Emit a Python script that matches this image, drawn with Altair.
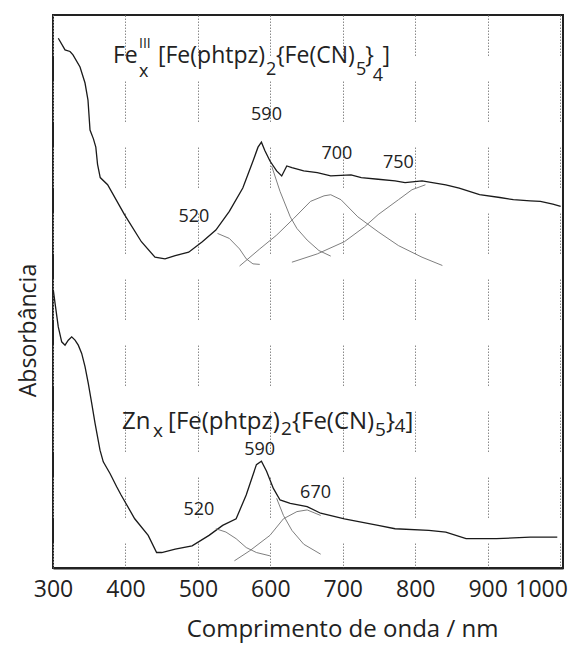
import altair as alt
import pandas as pd

# ---- measured spectra (wavelength nm, absorbance a.u.) ----
fe_nm = [307.3, 316.6, 323.5, 327.6, 337.3, 344.2, 348.3, 351.1, 355.8, 359.1, 361.5, 365.2,
         375.4, 398.7, 422.0, 440.8, 454.6, 468.7, 487.3, 506.1, 524.8, 543.4, 562.0, 576.1,
         583.0, 587.7, 592.4, 599.5, 608.7, 615.7, 622.7, 629.8, 646.1, 664.8, 683.4, 711.4,
         725.5, 748.8, 772.2, 786.0, 809.4, 842.2, 860.7, 888.8, 916.8, 935.5, 958.8, 972.8,
         990.0, 1000.8]
fe_abs = [0.958, 0.937, 0.934, 0.928, 0.906, 0.877, 0.846, 0.792, 0.776, 0.761, 0.730, 0.706,
          0.693, 0.639, 0.590, 0.562, 0.559, 0.565, 0.571, 0.590, 0.611, 0.645, 0.687, 0.736,
          0.761, 0.770, 0.755, 0.736, 0.718, 0.709, 0.727, 0.724, 0.718, 0.715, 0.709, 0.711,
          0.706, 0.703, 0.700, 0.697, 0.700, 0.693, 0.687, 0.675, 0.670, 0.666, 0.664, 0.663,
          0.658, 0.654]

zn_nm = [300.4, 302.8, 307.3, 312.0, 316.6, 321.1, 325.8, 330.4, 334.9, 339.6, 344.2, 348.7,
         353.4, 358.0, 364.9, 369.4, 378.7, 387.9, 394.0, 412.8, 431.4, 443.0, 450.1, 468.7,
         492.0, 515.4, 534.2, 552.8, 566.7, 580.8, 587.7, 594.8, 604.2, 613.4, 627.5, 650.8,
         669.5, 702.2, 748.8, 772.2, 818.8, 842.2, 870.2, 912.2, 958.8, 996.1]
zn_abs = [0.503, 0.479, 0.436, 0.409, 0.403, 0.412, 0.418, 0.412, 0.403, 0.388, 0.364, 0.334,
          0.298, 0.262, 0.213, 0.192, 0.171, 0.147, 0.132, 0.089, 0.059, 0.028, 0.028, 0.034,
          0.040, 0.059, 0.077, 0.089, 0.132, 0.187, 0.193, 0.175, 0.144, 0.123, 0.117, 0.111,
          0.099, 0.089, 0.077, 0.071, 0.068, 0.065, 0.053, 0.053, 0.056, 0.056]

# ---- fitted Gaussian components ----
fe520_nm = [527.1, 543.4, 557.5, 566.8, 576.0, 585.4]
fe520_abs = [0.605, 0.596, 0.577, 0.559, 0.550, 0.549]
fe590_nm = [601.8, 613.4, 627.5, 636.7, 650.8, 667.1, 683.4]
fe590_abs = [0.727, 0.681, 0.635, 0.614, 0.593, 0.574, 0.564]
fe700_nm = [557.5, 585.4, 608.7, 632.2, 655.5, 674.1, 683.4, 697.5, 720.8, 748.8, 776.9, 809.4, 837.5]
fe700_abs = [0.546, 0.577, 0.602, 0.632, 0.663, 0.673, 0.675, 0.666, 0.635, 0.608, 0.583, 0.562, 0.547]
fe750_nm = [629.8, 664.8, 702.2, 730.1, 748.8, 776.9, 795.5, 814.1]
fe750_abs = [0.553, 0.568, 0.590, 0.617, 0.639, 0.666, 0.684, 0.693]

zn520_nm = [524.8, 538.7, 552.8, 566.7, 580.8, 599.5]
zn520_abs = [0.071, 0.065, 0.053, 0.037, 0.028, 0.022]
zn590_nm = [608.7, 618.1, 629.8, 646.1, 669.5]
zn590_abs = [0.126, 0.095, 0.068, 0.043, 0.025]
zn670_nm = [550.4, 571.4, 599.5, 618.1, 636.7, 650.8, 669.5]
zn670_abs = [0.013, 0.031, 0.059, 0.089, 0.102, 0.105, 0.095]

# ---- peak labels ----
peak_text = ["590", "520", "700", "750", "590", "520", "670"]
peak_nm = [594.7, 494.4, 691.8, 776.8, 585.3, 501.4, 662.4]
peak_abs = [0.819, 0.635, 0.748, 0.733, 0.214, 0.105, 0.135]

# ---- sample names, composed of pieces (sub/superscripts) ----
name_text = ["Fe", "III", "x", "[Fe(phtpz)", "2", "{Fe(CN)", "5", "}", "4", "]",
             "Zn", "x", "[Fe(phtpz)", "2", "{Fe(CN)", "5", "}", "4", "]"]
name_nm = [382.8, 418.7, 418.7, 444.9, 594.0, 607.8, 718.3, 731.0, 741.5, 755.0,
           395.3, 438.1, 458.8, 614.8, 629.9, 744.5, 759.7, 771.5, 786.5]
name_abs = [0.913, 0.940, 0.888, 0.913, 0.892, 0.913, 0.892, 0.913, 0.881, 0.913,
            0.252, 0.236, 0.252, 0.240, 0.252, 0.239, 0.252, 0.246, 0.252]
name_size = [23, 14, 18, 23, 18, 23, 18, 23, 18, 23,
             24, 19, 24, 19, 24, 19, 24, 19, 24]

x_ticks = [300, 400, 500, 600, 700, 800, 900, 1000]

FONT = "Open Sans"

spec = pd.concat([
    pd.DataFrame({"nm": fe_nm, "A": fe_abs, "s": "Fe"}),
    pd.DataFrame({"nm": zn_nm, "A": zn_abs, "s": "Zn"}),
])
comps = pd.concat([
    pd.DataFrame({"nm": fe520_nm, "A": fe520_abs, "c": "fe520"}),
    pd.DataFrame({"nm": fe590_nm, "A": fe590_abs, "c": "fe590"}),
    pd.DataFrame({"nm": fe700_nm, "A": fe700_abs, "c": "fe700"}),
    pd.DataFrame({"nm": fe750_nm, "A": fe750_abs, "c": "fe750"}),
    pd.DataFrame({"nm": zn520_nm, "A": zn520_abs, "c": "zn520"}),
    pd.DataFrame({"nm": zn590_nm, "A": zn590_abs, "c": "zn590"}),
    pd.DataFrame({"nm": zn670_nm, "A": zn670_abs, "c": "zn670"}),
])
peaks = pd.DataFrame({"nm": peak_nm, "A": peak_abs, "t": peak_text})
names = pd.DataFrame({"nm": name_nm, "A": name_abs, "t": name_text, "fs": name_size})

grid_dash = [1.5, 1.5] * 13 + [1.5, 25.5]

x_enc = alt.X("nm:Q",
              scale=alt.Scale(domain=[300, 1004], nice=False, zero=False),
              axis=alt.Axis(values=x_ticks, format="d",
                            title="Comprimento de onda / nm",
                            labelFont=FONT, labelFontSize=23, labelColor="#222",
                            labelPadding=10, ticks=False, labelOverlap=False,
                            labelBound=False, labelFlush=False,
                            labelOffset={"expr": "datum.value == 1000 ? -19 : 0"},
                            domainColor="#222", domainWidth=2,
                            grid=True, gridColor="#8a8a8a", gridWidth=1,
                            gridDash=grid_dash,
                            titleFont=FONT, titleFontSize=24, titleFontWeight="normal",
                            titleColor="#222", titleX=289, titleY=68,
                            titleBaseline="alphabetic", titleAlign="center"))
y_enc = alt.Y("A:Q",
              scale=alt.Scale(domain=[0, 1], nice=False, zero=False),
              axis=alt.Axis(title="Absorbância", labels=False, ticks=False,
                            domain=False, grid=False,
                            titleFont=FONT, titleFontSize=23, titleFontWeight="normal",
                            titleColor="#222", titleX=-18, titleY=315, titleAngle=270,
                            titleBaseline="alphabetic", titleAlign="center"))

lines = alt.Chart(spec).mark_line(color="#1a1a1a", strokeWidth=1.3).encode(
    x=x_enc, y=y_enc, detail="s:N")

comp_lines = alt.Chart(comps).mark_line(color="#707070", strokeWidth=0.9).encode(
    x="nm:Q", y="A:Q", detail="c:N")

peak_labels = alt.Chart(peaks).mark_text(
    font=FONT, fontSize=18, color="#222", align="center", baseline="middle").encode(
    x="nm:Q", y="A:Q", text="t:N")

name_labels = alt.Chart(names).mark_text(
    font=FONT, color="#222", align="left", baseline="alphabetic").encode(
    x="nm:Q", y="A:Q", text="t:N", size=alt.Size("fs:Q", scale=None, legend=None))

chart = alt.layer(lines, comp_lines, peak_labels, name_labels).properties(
    width=510, height=553,
    autosize=alt.AutoSizeParams(type="none"),
    padding={"left": 45, "top": 7, "right": 5, "bottom": 75},
).configure_view(stroke="#222", strokeWidth=2)

chart.save("out.html", embed_options={"renderer": "svg", "actions": False})
